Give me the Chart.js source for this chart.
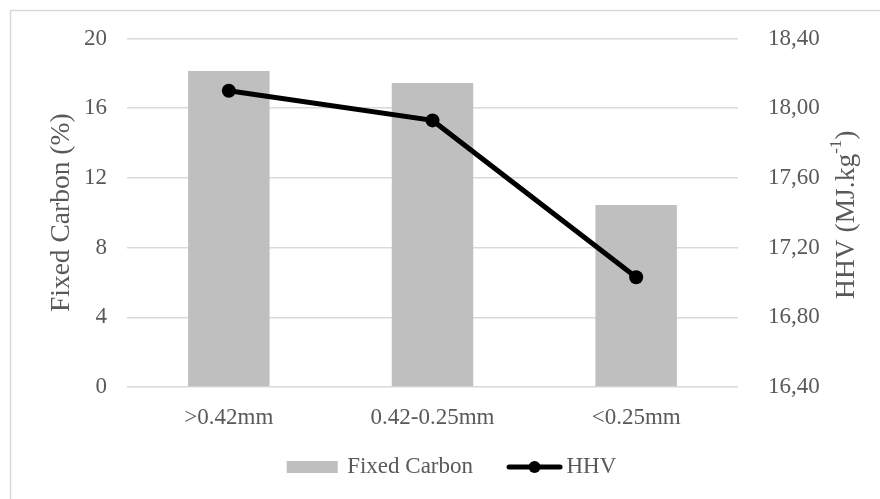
<!DOCTYPE html>
<html>
<head>
<meta charset="utf-8">
<script src="https://cdn.jsdelivr.net/npm/chart.js@4.4.1/dist/chart.umd.min.js"></script>
<style>
    html, body { margin: 0; padding: 0; background: #fff; overflow: hidden; }
    #wrap { width: 880px; height: 499px; }
</style>
</head>
<body>
<div id="wrap"><canvas id="grafico" width="880" height="499"></canvas></div>
<script>
const categorias = ['>0.42mm', '0.42-0.25mm', '<0.25mm'];
const carbonoFixo = [18.13, 17.45, 10.44];
const pcs = [18.10, 17.93, 17.03];
const ticksCarbono = [0, 4, 8, 12, 16, 20];
const ticksPcs = [16.4, 16.8, 17.2, 17.6, 18.0, 18.4];

const fonte = '"Liberation Serif", "Times New Roman", serif';
const cinzaTexto = '#595959';
const cinzaBarra = '#bfbfbf';
const cinzaGrade = '#d9d9d9';

document.addEventListener("DOMContentLoaded", function (e) {

    // icones da legenda: retangulo cinza e linha com marcador
    function iconeBarra() {
        const c = document.createElement('canvas');
        c.width = 88; c.height = 14;
        const ctx = c.getContext('2d');
        ctx.fillStyle = cinzaBarra;
        ctx.fillRect(31, 1, 51, 12);
        return c;
    }
    function iconeLinha() {
        const c = document.createElement('canvas');
        c.width = 88; c.height = 16;
        const ctx = c.getContext('2d');
        ctx.strokeStyle = '#000';
        ctx.lineWidth = 5;
        ctx.lineCap = 'round';
        ctx.beginPath();
        ctx.moveTo(34, 8);
        ctx.lineTo(85, 8);
        ctx.stroke();
        ctx.fillStyle = '#000';
        ctx.beginPath();
        ctx.arc(59.5, 8, 6, 0, Math.PI * 2);
        ctx.fill();
        return c;
    }
    const icones = [iconeBarra(), iconeLinha()];

    // moldura clara em volta do grafico
    const moldura = {
        id: 'moldura',
        beforeDraw(chart) {
            const ctx = chart.ctx;
            ctx.save();
            ctx.strokeStyle = cinzaGrade;
            ctx.lineWidth = 1.5;
            ctx.strokeRect(10.5, 10.5, 1000, 1000);
            ctx.restore();
        }
    };

    // titulo do eixo direito com expoente
    const tituloDireito = {
        id: 'tituloDireito',
        afterDraw(chart) {
            const ctx = chart.ctx;
            const area = chart.chartArea;
            const partes = [
                { t: 'HHV (MJ.kg', tam: 27.5, dy: 0 },
                { t: '-1', tam: 17, dy: -10 },
                { t: ')', tam: 27.5, dy: 0 }
            ];
            ctx.save();
            let total = 0;
            partes.forEach(p => {
                ctx.font = p.tam + 'px ' + fonte;
                p.w = ctx.measureText(p.t).width;
                total += p.w;
            });
            ctx.translate(847, (area.top + area.bottom) / 2 + 2);
            ctx.rotate(-Math.PI / 2);
            ctx.fillStyle = cinzaTexto;
            ctx.textBaseline = 'middle';
            ctx.textAlign = 'left';
            let x = -total / 2;
            partes.forEach(p => {
                ctx.font = p.tam + 'px ' + fonte;
                ctx.fillText(p.t, x, p.dy);
                x += p.w;
            });
            ctx.restore();
        }
    };

    // largura fixa dos eixos verticais, sem folga extra em cima/baixo
    function ajustaEixo(largura) {
        return (s) => {
            s.width = largura;
            s.paddingTop = 0;
            s.paddingBottom = 0;
        };
    }

    const grafico = new Chart(document.querySelector("#grafico"), {
        type: "bar",
        data: {
            labels: categorias,
            datasets: [{
                type: 'bar',
                label: 'Fixed Carbon',
                data: carbonoFixo,
                backgroundColor: cinzaBarra,
                borderWidth: 0,
                categoryPercentage: 1,
                barPercentage: 0.4,
                yAxisID: 'y',
                order: 1
            }, {
                type: 'line',
                label: 'HHV',
                data: pcs,
                borderColor: '#000',
                backgroundColor: '#000',
                borderWidth: 5,
                pointRadius: 7,
                pointBorderWidth: 0,
                pointBackgroundColor: '#000',
                tension: 0,
                yAxisID: 'y1',
                order: 0
            }]
        },
        options: {
            responsive: false,
            animation: false,
            devicePixelRatio: 1,
            layout: {
                padding: { top: 38.5, bottom: 10.5, left: 0, right: 0 }
            },
            plugins: {
                tooltip: { enabled: false },
                legend: {
                    position: 'bottom',
                    labels: {
                        usePointStyle: true,
                        pointStyleWidth: 72,
                        padding: 10,
                        color: cinzaTexto,
                        font: { family: fonte, size: 23 },
                        generateLabels: (chart) => chart.data.datasets.map((ds, i) => ({
                            text: ds.label,
                            pointStyle: icones[i],
                            fillStyle: 'transparent',
                            strokeStyle: 'transparent',
                            lineWidth: 0,
                            hidden: false,
                            datasetIndex: i,
                            fontColor: cinzaTexto
                        }))
                    }
                }
            },
            scales: {
                x: {
                    grid: { display: false, drawTicks: false },
                    border: { display: false },
                    ticks: {
                        color: cinzaTexto,
                        font: { family: fonte, size: 23 },
                        padding: 17,
                        maxRotation: 0
                    },
                    afterFit: (s) => { s.height = 58.5; }
                },
                y: {
                    position: 'left',
                    min: ticksCarbono[0],
                    max: ticksCarbono[ticksCarbono.length - 1],
                    afterBuildTicks: (s) => { s.ticks = ticksCarbono.map(v => ({ value: v })); },
                    grid: { color: cinzaGrade, lineWidth: 1.5, drawTicks: false },
                    border: { display: false },
                    ticks: {
                        color: cinzaTexto,
                        font: { family: fonte, size: 23 },
                        padding: 20
                    },
                    title: {
                        display: true,
                        text: 'Fixed Carbon (%)',
                        color: cinzaTexto,
                        font: { family: fonte, size: 27.5 },
                        padding: { top: 45, bottom: 0 }
                    },
                    afterFit: ajustaEixo(127)
                },
                y1: {
                    position: 'right',
                    min: ticksPcs[0],
                    max: ticksPcs[ticksPcs.length - 1],
                    afterBuildTicks: (s) => { s.ticks = ticksPcs.map(v => ({ value: v })); },
                    grid: { display: false, drawTicks: false },
                    border: { display: false },
                    ticks: {
                        color: cinzaTexto,
                        font: { family: fonte, size: 23 },
                        padding: 30,
                        callback: (v) => v.toFixed(2).replace('.', ',')
                    },
                    afterFit: ajustaEixo(142)
                }
            }
        },
        plugins: [moldura, tituloDireito]
    });

});
</script>
</body>
</html>
